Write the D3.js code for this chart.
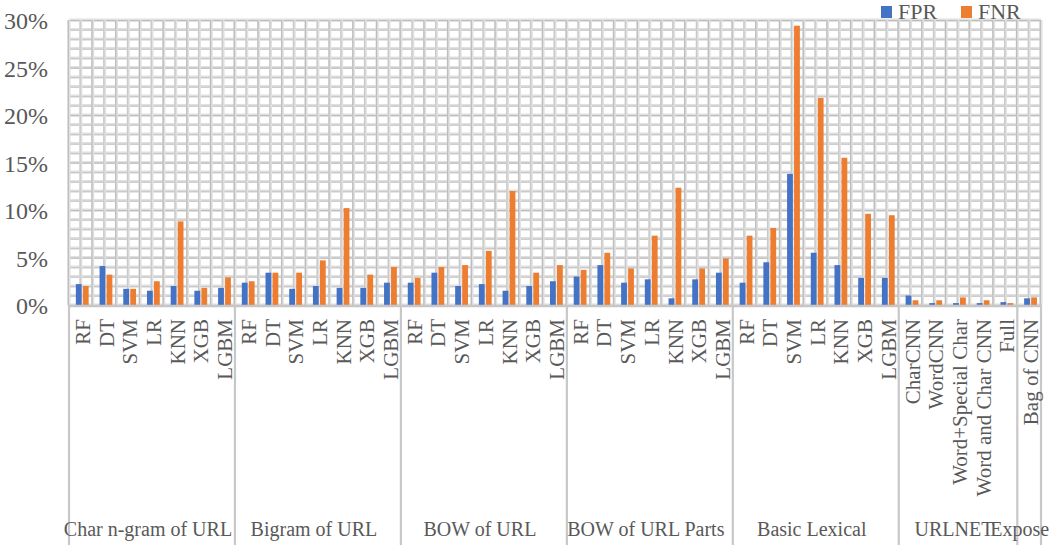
<!DOCTYPE html>
<html><head><meta charset="utf-8">
<script src="https://cdn.jsdelivr.net/npm/d3@7"></script>
<style>
html,body{margin:0;padding:0;background:#fff;}
svg{display:block;font-family:"Liberation Serif","Times New Roman",serif;}
</style></head>
<body><svg id="chart" width="1058" height="545"></svg>
<script>
const groups = ["Char n-gram of URL","Bigram of URL","BOW of URL","BOW of URL Parts","Basic Lexical","URLNET","Expose"];
const groupModels = [
  ["RF","DT","SVM","LR","KNN","XGB","LGBM"],
  ["RF","DT","SVM","LR","KNN","XGB","LGBM"],
  ["RF","DT","SVM","LR","KNN","XGB","LGBM"],
  ["RF","DT","SVM","LR","KNN","XGB","LGBM"],
  ["RF","DT","SVM","LR","KNN","XGB","LGBM"],
  ["CharCNN","WordCNN","Word+Special Char","Word and Char CNN","Full"],
  ["Bag of CNN"]
];
const seriesNames = ["FPR","FNR"];
const fpr = [2.2,4.1,1.7,1.5,2.0,1.5,1.8, 2.35,3.4,1.7,2.0,1.8,1.8,2.35, 2.35,3.4,2.0,2.2,1.5,2.0,2.5, 3.0,4.2,2.35,2.7,0.7,2.7,3.4, 2.35,4.5,13.8,5.5,4.2,2.85,2.85, 1.0,0.2,0.2,0.2,0.3, 0.7];
const fnr = [2.0,3.2,1.7,2.5,8.8,1.8,2.9, 2.5,3.4,3.4,4.7,10.2,3.2,4.0, 2.85,4.0,4.2,5.7,12.0,3.4,4.2, 3.7,5.5,3.85,7.3,12.35,3.85,4.9, 7.3,8.1,29.4,21.8,15.5,9.6,9.45, 0.5,0.5,0.8,0.5,0.2, 0.8];
const yTicks = [0,5,10,15,20,25,30];

const colors = ["#4472C4","#ED7D31"];
const textColor = "#595959";
const FONT = "'Liberation Serif','Times New Roman',serif";
const svg = d3.select("#chart");
const L = 69, R = 1041, T = 20, B = 305;

const cats = [];
groupModels.forEach((ms,gi)=>ms.forEach((m,mi)=>cats.push({id:gi+"-"+mi, model:m, group:gi})));
const x = d3.scaleBand().domain(cats.map(c=>c.id)).range([L,R]).padding(0);
const y = d3.scaleLinear().domain([0,30]).range([B,T]);
const bw = x.bandwidth();

// grid (double-line look)
const grid = svg.append("g");
function gline(x1,y1,x2,y2,dx,dy,dark){
  grid.append("line").attr("x1",x1).attr("x2",x2).attr("y1",y1).attr("y2",y2)
    .attr("stroke","#e0e0e0").attr("stroke-width",3);
  grid.append("line").attr("x1",x1+dx).attr("x2",x2+dx).attr("y1",y1+dy).attr("y2",y2+dy)
    .attr("stroke",dark?"#bdbdbd":"#c9c9c9").attr("stroke-width",1.3);
}
d3.range(0,31).forEach(v=>{
  gline(L,y(v),R,y(v),0,0.7, v%5===0);
});
d3.range(0, cats.length*2+1).forEach(i=>{
  const xx = L + i*bw/2;
  gline(xx,T,xx,B,-0.7,0, i%2===0);
});

// bars
const barW = 5.8, gap = 1.2, shift = 1.4;
const series = [fpr, fnr];
series.forEach((vals,si)=>{
  svg.append("g").selectAll("rect").data(cats).join("rect")
    .attr("x", (d)=> x(d.id)+bw/2+shift + (si===0 ? -gap/2-barW : gap/2))
    .attr("width", barW)
    .attr("y", (d,i)=> y(vals[i]))
    .attr("height", (d,i)=> B - y(vals[i]))
    .attr("fill", colors[si]);
});

// y axis
const yAxis = svg.append("g").attr("transform",`translate(${L-18},0)`)
  .call(d3.axisLeft(y).tickValues(yTicks).tickSize(0).tickFormat(d=>d+"%"));
yAxis.select(".domain").remove();
yAxis.attr("font-family",FONT);
yAxis.selectAll("text").attr("font-size","24px").attr("fill",textColor)
  .attr("font-family",FONT).attr("dy","0.36em");

// x axis line and group dividers
svg.append("line").attr("x1",L).attr("x2",R).attr("y1",B+1).attr("y2",B+1)
  .attr("stroke","#c6c6c6").attr("stroke-width",2.5);
let idx = 0;
const bounds = [0];
groupModels.forEach(ms=>{ idx += ms.length; bounds.push(idx); });
bounds.forEach(b=>{
  const xx = L + b*bw;
  svg.append("line").attr("x1",xx).attr("x2",xx).attr("y1",B).attr("y2",545)
    .attr("stroke","#c8c8c8").attr("stroke-width",2.2);
});

// category labels (rotated)
svg.append("g").selectAll("text").data(cats).join("text")
  .attr("transform", d=>`translate(${x(d.id)+bw/2+2},319) rotate(-90)`)
  .attr("text-anchor","end").attr("dominant-baseline","central")
  .attr("font-family",FONT).attr("font-size","21px").attr("fill",textColor)
  .text(d=>d.model);

// group labels (last one overflows its narrow group and is cut at the right, as in the original)
svg.append("defs").append("clipPath").attr("id","clipR")
  .append("rect").attr("x",0).attr("y",0).attr("width",1050).attr("height",545);
const lastG = groups.length-1;
svg.append("g").attr("clip-path","url(#clipR)").selectAll("text").data(groups).join("text")
  .attr("x",(g,i)=> i===lastG ? L + bounds[i]*bw - 27 : L + (bounds[i]+bounds[i+1])/2*bw - 4)
  .attr("y",536).attr("text-anchor",(g,i)=> i===lastG ? "start" : "middle")
  .attr("font-family",FONT).attr("font-size","20px").attr("fill",textColor)
  .text(g=>g);

// legend
const leg = svg.append("g");
const legX = [881, 961];
seriesNames.forEach((n,i)=>{
  leg.append("rect").attr("x",legX[i]).attr("y",6).attr("width",11).attr("height",12).attr("fill",colors[i]);
  leg.append("text").attr("x",legX[i]+17).attr("y",19).attr("font-family",FONT)
    .attr("font-size","22px").attr("fill",textColor).text(n);
});
</script></body></html>
